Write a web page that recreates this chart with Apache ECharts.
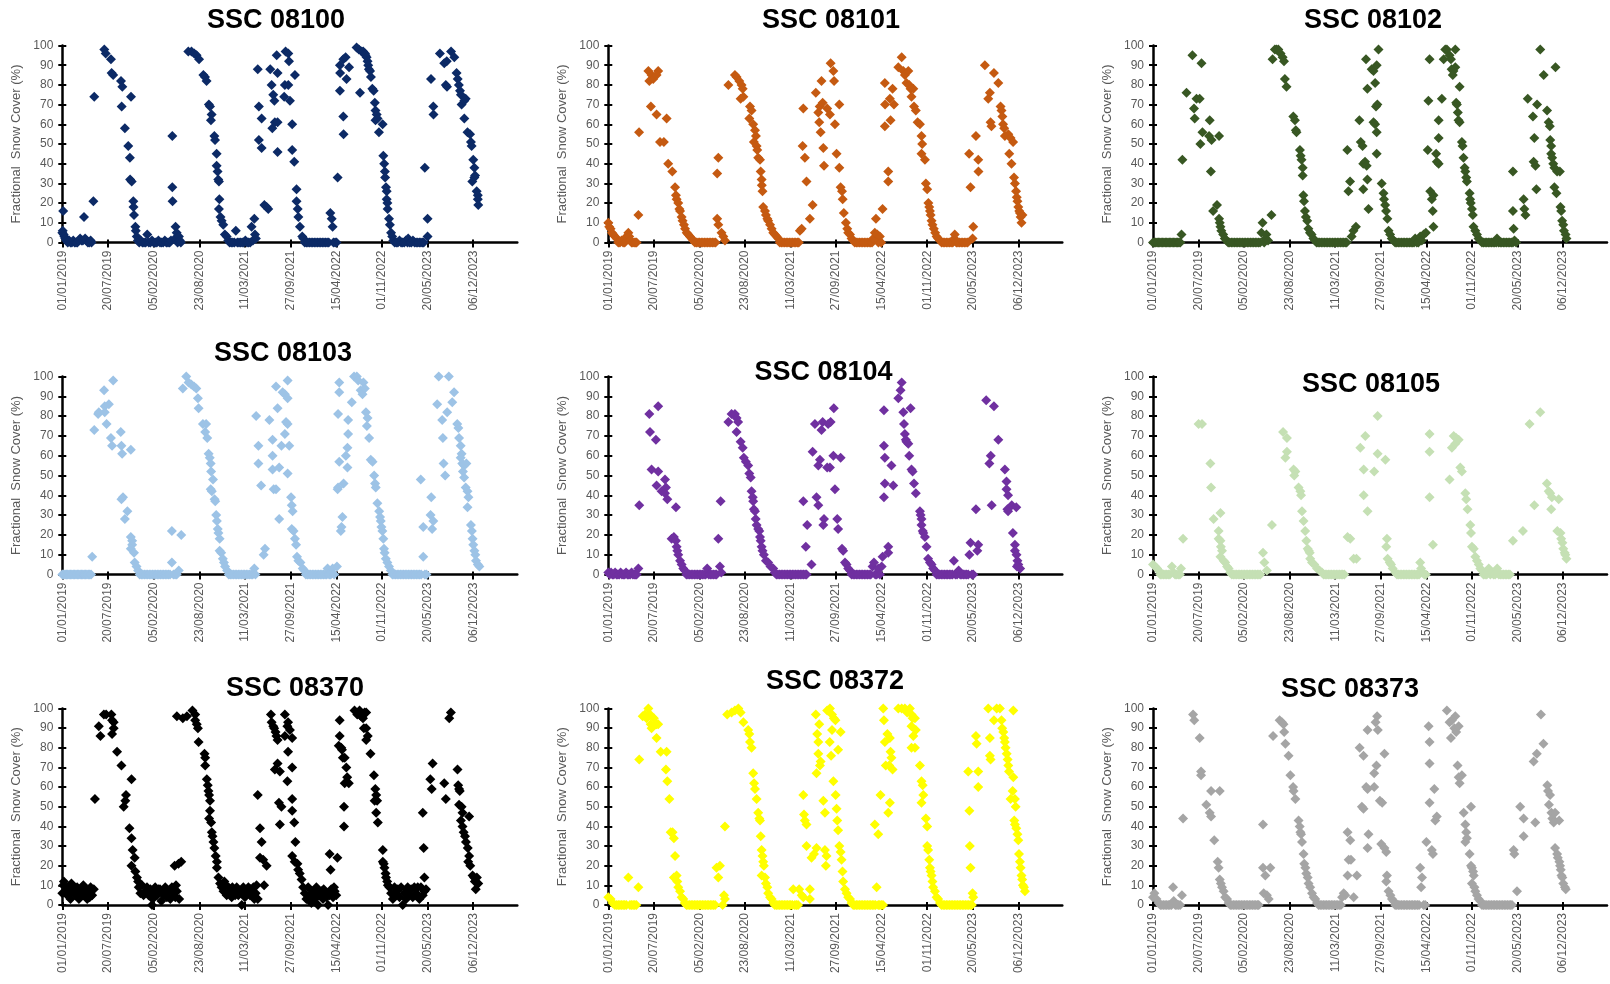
<!DOCTYPE html>
<html><head><meta charset="utf-8">
<script src="https://cdn.jsdelivr.net/npm/echarts@6/dist/echarts.min.js"></script>
<style>html,body{margin:0;padding:0;background:#fff}#c{width:1610px;height:984px}</style>
</head><body><div id="c"></div>
<script>
// x values are days since 01/01/2019
const xTickDays = [0,200,400,600,800,1000,1200,1400,1600,1800];
const xTickLabels = ['01/01/2019','20/07/2019','05/02/2020','23/08/2020','11/03/2021','27/09/2021','15/04/2022','01/11/2022','20/05/2023','06/12/2023'];
const stationNames = ['SSC 08100','SSC 08101','SSC 08102','SSC 08103','SSC 08104','SSC 08105','SSC 08370','SSC 08372','SSC 08373'];
const stationColors = ['#0c2a66','#c55a11','#385723','#9dc3e6','#7030a0','#c5e0b4','#000000','#ffff00','#a5a5a5'];
const yAxisName = 'Fractional  Snow Cover (%)';

const ssc08100 = [[0,5],[2,6],[4,16],[6,4],[9,3],[13,2],[18,1],[24,0],[30,1],[36,0],[42,0],[48,1],[54,0],[60,0],[66,0],[72,1],[78,2],[84,1],[90,1],[95,13],[100,2],[106,1],[112,0],[118,0],[124,1],[128,0],[136,21],[140,74],
[184,98],[190,96],[213,93],[216,86],[223,85],[257,82],[263,79],[260,69],[274,58],[289,49],[296,43],[297,32],[301,74],[304,31],[311,21],[312,18],[314,14],[320,8],[322,6],[326,3],[331,1],
[337,0],[344,1],[351,0],[358,0],[365,0],[372,4],[379,0],[386,0],[393,1],[400,0],[407,0],[414,0],[421,1],[428,0],[435,0],[442,0],[449,1],[456,0],[463,0],[470,0],[476,1],
[482,54],[482,28],[483,21],[494,2],[496,8],[501,5],[505,0],[511,3],[515,1],[519,0],
[552,97],[566,97],[578,96],[588,95],[599,93],[618,85],[625,84],[632,82],[642,70],[647,69],[654,65],[651,62],[666,54],[669,52],[676,45],[676,39],[680,36],[683,32],[686,31],[688,22],[686,17],[693,13],[698,11],[705,9],[712,4],[720,3],[727,1],
[733,0],[740,0],[747,0],[754,0],[760,6],[767,0],[774,0],[781,0],[788,0],[795,0],[802,1],[809,0],[816,0],[823,0],[829,8],[835,1],[841,12],[844,4],[848,2],
[856,88],[861,69],[873,63],[861,52],[873,48],[885,19],[895,18],[902,17],[911,88],[917,80],[924,75],[929,72],[920,58],[931,61],[943,61],[939,95],[943,86],[943,46],[972,74],[975,80],[990,80],[978,97],[990,96],[993,92],[997,72],[1007,60],[1007,47],[1016,41],[1019,85],[1026,27],[1026,21],[1031,17],[1034,13],[1041,8],[1051,3],[1056,2],
[1062,0],[1069,0],[1076,0],[1083,0],[1090,0],[1097,0],[1104,0],[1111,0],[1118,0],[1125,0],[1132,0],[1139,0],[1146,0],[1153,0],[1160,0],[1167,0],[1174,15],[1180,12],[1184,8],[1188,0],[1195,0],[1201,0],
[1206,33],[1216,90],[1217,86],[1216,77],[1231,93],[1241,94],[1256,89],[1245,83],[1231,64],[1232,55],[1289,99],[1299,98],[1304,76],[1311,97],[1318,97],[1326,96],[1328,95],[1333,94],[1337,92],[1340,90],[1343,88],[1348,87],[1352,84],[1358,78],[1364,77],[1369,71],[1372,67],[1377,65],[1372,62],[1381,63],[1387,56],[1403,60],[1406,44],[1410,40],[1413,36],[1414,33],[1418,28],[1421,26],[1421,22],[1424,20],[1425,17],[1431,12],[1435,9],[1440,5],[1445,3],[1450,1],
[1456,0],[1463,0],[1470,0],[1477,1],[1484,0],[1491,0],[1498,0],[1505,1],[1512,0],[1515,2],[1522,0],[1529,0],[1536,1],[1543,0],[1550,0],[1557,0],[1564,0],[1571,0],[1578,0],[1583,0],
[1588,38],[1600,12],[1600,3],[1615,83],[1625,69],[1626,65],[1654,96],[1673,91],[1684,92],[1680,80],[1685,79],[1703,97],[1717,94],[1727,86],[1732,83],[1737,80],[1742,77],[1746,75],[1749,70],[1761,72],[1767,73],[1761,63],[1775,56],[1786,55],[1790,51],[1793,49],[1800,42],[1805,38],[1808,34],[1805,33],[1796,31],[1815,26],[1820,24],[1820,22],[1822,19]];

const ssc08101 = [[0,10],[4,8],[10,7],[16,5],[22,4],[29,3],[37,2],[44,0],[51,0],[58,1],[65,0],[72,0],[80,3],[88,5],[92,3],[96,1],[102,0],[108,0],[114,0],[120,0],[124,0],[132,14],[135,56],
[176,87],[180,82],[190,85],[197,83],[219,87],[212,85],[187,69],[212,65],[227,51],[244,51],[256,63],[263,40],[281,36],[293,28],[297,24],[300,22],[307,20],[312,17],[315,16],[322,13],[326,11],[332,9],[337,7],[344,5],[351,4],[358,3],[366,2],[373,1],
[380,0],[387,0],[394,0],[401,0],[408,0],[415,0],[422,0],[429,0],[436,0],[443,0],[450,0],[457,0],[464,0],[471,0],
[478,35],[483,43],[478,12],[483,9],[497,5],[505,3],[512,1],
[527,80],[556,85],[563,84],[575,82],[585,80],[590,78],[581,73],[593,74],[622,69],[629,67],[619,63],[636,60],[644,57],[648,54],[639,51],[651,49],[654,47],[658,43],[666,42],[669,36],[673,32],[674,29],[677,26],[680,18],[688,16],[692,14],[698,12],[702,11],[710,9],[717,7],[724,5],[731,4],[739,3],[746,2],[753,0],
[760,0],[767,0],[774,0],[781,0],[788,0],[795,0],[802,0],[809,0],[816,0],[823,0],[830,0],[836,0],[841,6],[849,7],
[856,68],[853,49],[863,43],[870,31],[897,19],[885,12],[911,76],[922,66],[926,61],[932,56],[936,82],[928,69],[941,71],[944,48],[947,39],[961,68],[973,65],[976,91],[988,87],[991,82],[995,60],[1002,45],[1014,70],[1014,38],[1020,28],[1026,26],[1029,22],[1034,15],[1043,10],[1049,7],[1053,5],[1061,4],[1068,2],[1075,1],
[1082,0],[1089,0],[1096,0],[1103,0],[1110,0],[1117,0],[1124,0],[1131,0],[1138,0],[1145,0],[1152,0],[1158,0],[1163,2],[1170,5],[1175,12],[1181,4],[1186,0],[1192,3],[1198,0],[1204,17],
[1214,59],[1214,81],[1215,70],[1229,36],[1229,31],[1236,73],[1239,62],[1248,78],[1254,70],[1273,89],[1288,94],[1295,87],[1302,85],[1309,81],[1317,87],[1321,80],[1327,78],[1331,74],[1339,78],[1342,69],[1350,67],[1358,61],[1368,60],[1375,54],[1378,50],[1375,45],[1390,42],[1394,30],[1400,27],[1405,20],[1409,18],[1412,16],[1415,14],[1419,11],[1423,9],[1429,7],[1435,5],[1441,3],[1448,2],[1456,1],
[1463,0],[1470,0],[1477,0],[1484,0],[1491,0],[1498,0],[1505,0],[1512,0],[1519,2],[1521,4],[1528,0],[1535,0],[1542,0],[1549,0],[1556,0],[1563,0],[1570,0],[1577,0],
[1584,45],[1590,28],[1602,8],[1599,2],
[1614,54],[1624,42],[1625,36],[1653,90],[1668,73],[1675,76],[1678,61],[1682,59],[1693,86],[1712,81],[1722,69],[1726,67],[1730,64],[1733,60],[1738,58],[1741,54],[1756,55],[1766,53],[1777,51],[1760,45],[1770,40],[1781,33],[1785,30],[1790,26],[1793,23],[1796,21],[1800,18],[1804,16],[1807,15],[1810,13],[1818,14],[1814,10]];

const ssc08102 = [[0,0],[6,0],[12,0],[18,0],[24,0],[30,0],[36,0],[42,0],[48,0],[54,0],[60,0],[66,0],[72,0],[78,0],[84,0],[90,0],[96,0],[102,0],[108,0],[114,0],[120,0],[125,4],[129,42],
[147,76],[173,95],[191,73],[205,73],[180,68],[183,63],[213,91],[217,56],[208,50],[249,62],[246,54],[257,52],[290,54],[254,36],[264,16],[281,19],[290,12],[293,10],[296,8],[300,6],[308,4],[315,2],[323,1],
[330,0],[337,0],[344,0],[351,0],[358,0],[365,0],[372,0],[379,0],[386,0],[393,0],[400,0],[407,0],[414,0],[421,0],[428,0],[435,0],[442,0],[449,0],[456,0],[463,0],[470,0],[476,5],[481,10],[488,0],[494,2],[498,4],[505,1],[520,14],
[525,93],[535,98],[542,98],[550,98],[560,96],[569,94],[575,92],[579,83],[586,79],[616,64],[623,62],[627,57],[630,56],[645,47],[648,44],[652,42],[657,38],[657,34],[660,24],[663,21],[667,16],[671,13],[677,11],[682,7],[689,5],[696,4],[704,2],[711,1],
[718,0],[725,0],[732,0],[739,0],[746,0],[753,0],[760,0],[767,0],[774,0],[781,0],[788,0],[795,0],[802,0],[809,0],[816,0],[823,0],[830,0],[837,0],[844,0],[850,0],
[853,47],[865,31],[858,26],[872,3],[880,6],[891,8],[906,62],[912,51],[920,49],[923,40],[931,41],[938,39],[923,27],[941,32],[946,17],[935,93],[941,78],[960,88],[968,87],[975,81],[979,69],[985,70],[968,61],[975,60],[982,45],[982,56],[990,98],[982,90],[1004,30],[1012,25],[1014,22],[1019,19],[1023,16],[1029,12],[1034,6],[1041,4],[1048,2],[1056,1],
[1063,0],[1070,0],[1077,0],[1084,0],[1091,0],[1098,0],[1105,0],[1112,0],[1119,0],[1126,0],[1133,0],[1140,0],[1146,0],[1151,2],[1158,0],[1165,0],[1173,3],[1180,1],[1188,4],[1198,5],
[1214,93],[1209,72],[1206,47],[1217,26],[1224,22],[1231,24],[1228,16],[1231,8],[1243,45],[1246,41],[1254,40],[1254,62],[1254,53],[1268,73],[1276,93],[1283,98],[1290,98],[1302,95],[1308,93],[1327,98],[1311,88],[1319,87],[1316,85],[1327,89],[1346,79],[1331,71],[1334,70],[1338,66],[1341,62],[1346,61],[1356,51],[1359,49],[1363,43],[1368,38],[1371,36],[1375,33],[1378,31],[1390,25],[1392,22],[1395,20],[1400,17],[1404,14],[1407,8],[1415,6],[1422,4],[1429,2],[1437,1],
[1444,0],[1451,0],[1458,0],[1465,0],[1472,0],[1479,0],[1486,0],[1493,0],[1500,0],[1507,0],[1510,2],[1517,0],[1524,0],[1531,0],[1538,0],[1545,0],[1552,0],[1559,0],[1566,0],[1573,0],[1580,0],[1587,1],[1594,0],
[1580,36],[1580,16],[1583,7],[1627,22],[1630,17],[1635,14],
[1645,73],[1668,64],[1674,53],[1671,41],[1679,39],[1683,27],[1686,70],[1700,98],[1715,85],[1730,67],[1737,61],[1742,59],[1744,52],[1748,49],[1748,45],[1752,43],[1757,40],[1762,38],[1774,36],[1767,89],[1762,28],[1771,25],[1786,36],[1789,18],[1792,16],[1796,11],[1801,9],[1804,6],[1811,4],[1815,2]];

const ssc08103 = [[0,0],[6,0],[12,0],[18,0],[24,0],[30,0],[36,0],[42,0],[48,0],[54,0],[60,0],[66,0],[72,0],[78,0],[84,0],[90,0],[96,0],[102,0],[108,0],[114,0],[120,0],[126,0],[131,9],
[140,73],[157,81],[160,82],[183,93],[186,85],[186,82],[194,76],[204,86],[223,98],[213,69],[218,65],[256,72],[259,65],[262,61],[300,63],[266,39],[259,38],[285,32],[274,28],[300,19],[306,17],[306,15],[300,13],[314,11],[317,6],[325,4],[332,2],
[339,0],[346,0],[353,0],[360,0],[367,0],[374,0],[381,0],[388,0],[395,0],[402,0],[409,0],[416,0],[423,0],[430,0],[437,0],[444,0],[451,0],[458,0],[465,0],[472,0],[480,6],[480,22],[487,0],[494,0],[501,0],[510,2],[521,20],
[528,94],[543,100],[553,97],[565,96],[577,95],[587,94],[594,89],[597,84],[616,76],[630,76],[626,72],[635,69],[641,61],[646,59],[650,56],[652,52],[660,48],[650,43],[655,42],[667,38],[670,37],[674,30],[677,27],[681,23],[684,21],[689,18],[689,12],[696,11],[703,8],[708,6],[713,4],[722,2],
[729,0],[736,0],[743,0],[750,0],[757,0],[764,0],[771,0],[778,0],[785,0],[792,0],[799,0],[806,0],[813,0],[820,0],[827,0],[834,0],[841,3],[846,0],
[849,80],[859,65],[859,56],[871,45],[882,10],[888,13],[907,78],[921,68],[921,60],[921,53],[926,43],[936,43],[936,95],[943,84],[950,54],[950,28],[965,92],[975,91],[975,71],[980,77],[987,76],[987,89],[987,98],[987,51],[960,65],[994,65],[1002,39],[1005,35],[1009,32],[1005,23],[1013,22],[1019,18],[1024,15],[1028,9],[1034,7],[1043,6],[1053,3],[1060,2],
[1067,0],[1074,0],[1081,0],[1088,0],[1095,0],[1102,0],[1109,0],[1116,0],[1123,0],[1130,0],[1137,0],[1144,0],[1151,0],[1158,0],[1162,3],[1169,0],[1176,0],[1184,3],[1191,0],[1203,4],
[1206,43],[1208,44],[1213,57],[1208,81],[1213,97],[1213,92],[1220,22],[1223,24],[1227,29],[1232,46],[1242,60],[1249,64],[1252,71],[1249,54],[1252,78],[1268,87],[1278,100],[1290,100],[1296,98],[1307,93],[1315,91],[1319,97],[1325,94],[1330,82],[1337,79],[1334,75],[1344,69],[1351,58],[1359,57],[1366,50],[1370,46],[1373,44],[1380,36],[1388,32],[1392,29],[1395,27],[1398,24],[1402,22],[1406,18],[1409,13],[1412,11],[1417,8],[1424,6],[1431,4],[1439,2],
[1446,0],[1453,0],[1460,0],[1467,0],[1474,0],[1481,0],[1488,0],[1495,0],[1502,0],[1509,0],[1516,0],[1523,0],[1530,0],[1537,0],[1544,0],[1551,0],[1558,0],[1565,0],[1572,0],[1581,9],[1570,48],[1581,24],[1588,0],[1595,0],
[1616,39],[1613,30],[1625,27],[1620,23],
[1642,86],[1649,100],[1664,78],[1686,82],[1693,100],[1667,69],[1670,56],[1677,50],[1716,92],[1708,87],[1730,76],[1735,74],[1738,69],[1745,65],[1749,61],[1745,59],[1752,56],[1760,55],[1770,56],[1755,52],[1760,49],[1767,44],[1775,42],[1779,39],[1775,34],[1790,25],[1794,22],[1797,18],[1800,15],[1805,12],[1809,10],[1812,7],[1820,5],[1827,4]];

const ssc08104 = [[0,1],[6,0],[12,1],[18,0],[24,0],[30,1],[36,0],[42,0],[48,0],[54,1],[60,0],[66,0],[72,0],[78,1],[84,0],[90,0],[96,0],[102,1],[108,0],[114,0],[120,0],[124,0],[132,3],[136,35],
[180,81],[183,72],[209,68],[219,85],[190,53],[219,52],[212,45],[249,48],[253,44],[234,42],[249,41],[259,38],[297,34],[278,18],[288,19],[297,17],[300,14],[303,12],[307,10],[315,7],[322,5],[329,3],[336,2],
[343,0],[350,0],[357,0],[364,0],[371,0],[378,0],[385,0],[392,0],[399,0],[406,0],[413,0],[420,0],[427,0],[434,3],[441,0],[448,0],[455,0],[462,0],[469,0],[475,0],
[483,18],[493,37],[490,4],[496,1],
[527,77],[541,81],[556,81],[563,79],[570,77],[563,72],[581,67],[590,64],[595,59],[604,57],[614,55],[619,51],[625,49],[629,42],[634,39],[636,37],[639,33],[644,32],[647,28],[651,25],[658,23],[663,22],[666,19],[669,17],[673,14],[677,12],[683,10],[692,7],[702,6],[712,4],[724,3],[731,1],
[738,0],[745,0],[752,0],[759,0],[766,0],[773,0],[780,0],[787,0],[794,0],[801,0],[808,0],[815,0],[822,0],[829,0],[836,0],[843,0],[850,0],[857,0],[864,0],[870,0],
[856,37],[873,25],[867,14],[892,5],[897,62],[907,76],[914,39],[922,35],[922,55],[929,58],[936,73],[941,77],[947,28],[944,25],[961,54],[973,54],[965,76],[976,77],[990,84],[988,60],[995,43],[1005,28],[1009,23],[1020,59],[1026,13],[1031,12],[1039,6],[1046,5],[1053,3],[1061,2],
[1068,0],[1075,0],[1082,0],[1089,0],[1096,0],[1103,0],[1110,0],[1117,0],[1124,0],[1131,0],[1138,0],[1145,0],[1152,0],[1160,4],[1166,6],[1172,0],[1178,0],[1185,3],[1192,0],[1200,4],[1204,9],
[1210,83],[1210,65],[1214,59],[1210,39],[1214,46],[1229,14],[1229,11],[1243,55],[1251,45],[1273,89],[1283,93],[1288,97],[1295,82],[1298,76],[1302,71],[1306,68],[1309,67],[1317,66],[1321,60],[1327,84],[1331,53],[1336,52],[1342,46],[1350,41],[1368,32],[1371,30],[1375,28],[1375,25],[1380,22],[1383,21],[1390,19],[1397,14],[1404,8],[1412,6],[1419,5],[1426,3],[1434,2],
[1441,0],[1448,0],[1455,0],[1462,0],[1469,0],[1476,0],[1483,0],[1490,0],[1497,0],[1504,0],[1511,0],[1517,7],[1524,0],[1531,0],[1538,2],[1545,0],[1552,0],[1559,0],[1566,0],[1573,0],[1580,0],[1585,10],[1590,16],[1596,0],[1602,0],
[1614,33],[1624,15],[1620,12],[1659,88],[1673,56],[1679,60],[1693,85],[1683,35],[1712,68],[1741,53],[1748,47],[1748,43],[1755,40],[1752,33],[1755,32],[1771,35],[1791,34],[1776,21],[1785,15],[1785,12],[1792,10],[1796,7],[1800,5],[1808,3],[1794,4]];

const ssc08105 = [[0,5],[10,4],[18,3],[25,2],[32,0],[39,0],[46,0],[53,0],[60,0],[67,0],[74,0],[83,4],[90,1],[97,0],[104,0],[111,0],[118,0],[123,3],[132,18],
[200,76],[215,76],[252,56],[255,44],[266,28],[296,31],[288,22],[288,18],[296,17],[298,14],[303,12],[296,9],[310,7],[317,6],[325,4],[332,3],[339,1],
[346,0],[353,0],[360,0],[367,0],[374,0],[381,0],[388,0],[395,0],[402,0],[409,0],[416,0],[423,0],[430,0],[437,0],[444,0],[451,0],[458,0],[465,0],[471,0],
[483,11],[489,6],[500,2],[522,25],
[571,72],[588,69],[588,62],[581,59],[617,53],[625,52],[620,50],[639,44],[647,42],[650,40],[654,32],[661,27],[668,22],[673,17],[679,13],[684,12],[688,11],[690,8],[698,6],[708,5],[720,3],[731,2],[742,1],
[749,0],[756,0],[763,0],[770,0],[777,0],[784,0],[791,0],[798,0],[805,0],[812,0],[819,0],[826,0],[833,0],[840,0],
[854,19],[866,18],[881,8],[893,8],[910,64],[925,53],[932,70],[942,32],[925,40],[971,52],[986,61],[986,80],[1020,58],[1027,18],[1024,14],[1030,8],[1039,6],[1045,5],[1052,3],[1064,1],
[1071,0],[1078,0],[1085,0],[1092,0],[1099,0],[1106,0],[1113,0],[1120,0],[1127,0],[1134,0],[1141,0],[1148,0],[1155,0],[1162,0],[1168,0],[1173,6],[1177,3],[1184,1],[1191,0],[1198,0],
[1214,71],[1214,62],[1214,39],[1229,15],[1302,48],[1312,64],[1320,70],[1327,66],[1331,69],[1342,68],[1349,54],[1356,52],[1371,41],[1375,38],[1381,33],[1393,25],[1396,21],[1400,14],[1408,13],[1415,9],[1422,7],[1430,5],[1437,3],[1444,2],
[1451,0],[1458,0],[1465,0],[1474,3],[1481,0],[1488,1],[1495,0],[1502,0],[1511,3],[1518,0],[1525,0],[1532,0],[1539,0],[1546,0],[1553,0],[1560,0],[1567,0],
[1580,17],[1624,22],[1653,76],[1674,35],[1700,82],[1729,46],[1737,42],[1744,41],[1751,39],[1748,33],[1781,38],[1775,22],[1789,21],[1792,18],[1797,16],[1801,13],[1807,11],[1810,10],[1815,8]];

const ssc08370 = [[0,6],[7,12],[15,9],[22,5],[29,9],[36,3],[44,7],[51,9],[58,5],[65,9],[73,3],[80,7],[87,9],[95,5],[102,8],[109,3],[116,6],[124,9],[131,5],[138,8],[4,10],[18,7],[40,11],[62,6],[92,10],[120,4],
[143,54],[160,91],[167,86],[182,97],[192,97],[215,97],[218,94],[225,93],[225,90],[218,87],[240,78],[259,71],[269,50],[276,53],[279,56],[303,64],[294,39],[303,34],[308,28],[317,24],[303,20],[320,17],[327,14],[332,12],[335,9],[342,6],[349,10],[356,5],
[371,9],[378,5],[386,8],[393,0],[396,3],[407,9],[415,5],[422,8],[434,2],[439,6],[451,9],[458,4],[466,7],[473,3],[480,9],[487,6],[495,4],[498,10],[502,7],[492,20],[509,21],[521,22],[512,3],[364,7],[400,6],[428,8],[445,5],
[502,96],[528,95],[546,96],[570,99],[582,97],[582,94],[589,92],[594,90],[597,83],[623,77],[626,75],[626,71],[633,64],[637,61],[640,58],[643,56],[647,53],[647,48],[643,44],[652,42],[655,37],[658,35],[662,32],[666,29],[672,25],[677,22],[677,19],[684,14],[691,11],[698,9],
[706,7],[713,10],[720,5],[728,9],[735,6],[742,4],[749,8],[757,5],[764,9],[771,5],[778,7],[786,0],[793,9],[800,4],[808,7],[815,9],[822,5],[829,7],[837,9],[841,3],[847,6],[851,10],[856,3],[710,12],[745,9],[790,6],[825,8],
[856,56],[866,39],[873,32],[866,24],[880,23],[895,20],[884,10],[914,97],[917,93],[924,91],[928,90],[934,88],[938,86],[943,84],[931,69],[943,72],[953,68],[949,52],[960,50],[953,41],[975,97],[989,93],[986,91],[997,89],[975,86],[989,78],[1007,85],[986,63],[1007,70],[1007,54],[1007,48],[1016,42],[1021,32],[1007,25],[1018,22],[1030,21],[1033,18],[1040,16],[1048,13],[1055,9],
[1062,6],[1069,3],[1077,9],[1084,5],[1091,1],[1098,7],[1106,3],[1113,9],[1120,0],[1128,5],[1135,7],[1142,3],[1149,7],[1157,4],[1164,0],[1171,5],[1178,8],[1186,4],[1193,7],[1200,5],[1175,18],[1171,26],[1205,24],[1110,6],[1145,8],[1190,9],
[1215,94],[1215,86],[1211,81],[1222,80],[1225,79],[1229,75],[1237,75],[1244,70],[1248,65],[1237,62],[1255,62],[1234,50],[1234,40],[1280,99],[1292,97],[1302,99],[1309,96],[1317,95],[1324,98],[1331,98],[1321,90],[1331,90],[1338,86],[1331,84],[1350,77],[1365,66],[1371,59],[1375,56],[1368,53],[1379,53],[1375,47],[1382,42],[1404,28],[1404,22],[1408,21],[1411,19],[1416,16],[1418,14],[1423,12],[1426,10],[1433,9],
[1440,6],[1448,3],[1455,9],[1462,5],[1470,8],[1477,4],[1484,9],[1491,0],[1499,6],[1506,3],[1513,9],[1520,5],[1528,8],[1535,4],[1542,9],[1550,6],[1557,9],[1564,3],[1571,9],[1579,5],[1586,7],[1593,8],[1466,7],[1510,8],[1546,5],
[1579,47],[1583,29],[1586,14],
[1622,72],[1612,64],[1618,59],[1673,62],[1680,54],[1695,95],[1702,98],[1731,69],[1734,61],[1738,59],[1741,58],[1738,51],[1749,50],[1753,47],[1746,43],[1782,45],[1753,40],[1758,37],[1764,35],[1768,32],[1776,29],[1782,25],[1778,22],[1787,20],[1797,15],[1804,14],[1816,14],[1822,11],[1807,12],[1811,8]];

const ssc08372 = [[0,4],[10,3],[19,1],[29,0],[37,0],[44,0],[51,0],[58,0],[65,0],[72,0],[79,0],[88,14],[95,0],[102,0],[109,0],[116,0],[123,0],[132,9],
[136,74],[151,96],[161,97],[168,95],[176,100],[183,97],[186,92],[190,90],[200,95],[209,92],[212,92],[219,92],[212,85],[230,78],[256,78],[253,69],[259,63],[268,54],[274,37],[282,37],[288,34],[293,25],[288,14],[300,15],[303,12],[307,9],[315,7],[322,4],[329,3],[336,1],
[343,0],[350,0],[357,0],[364,0],[371,0],[378,0],[385,0],[392,0],[399,0],[406,0],[413,0],[420,0],[427,0],[434,0],[441,0],[448,0],[455,0],[462,0],[469,0],
[475,19],[483,14],[490,20],[508,5],[512,3],[502,0],[512,40],
[522,97],[541,98],[556,99],[571,100],[581,98],[593,93],[614,89],[619,87],[622,83],[629,80],[636,67],[640,62],[644,59],[651,54],[658,47],[663,44],[666,43],[669,35],[673,28],[677,25],[680,22],[683,20],[673,15],[688,14],[692,11],[698,9],[702,6],[710,4],[717,3],[724,1],
[731,0],[738,0],[745,0],[752,0],[759,0],[766,0],[773,0],[780,0],[787,0],[794,0],[801,0],[808,0],[812,8],[819,0],[826,0],[833,0],[838,8],[849,5],[856,4],[885,8],[885,3],
[856,56],[859,46],[863,43],[870,41],[870,30],[892,24],[903,26],[914,29],[911,97],[926,92],[917,87],[922,83],[922,77],[932,73],[929,71],[914,67],[944,53],[951,47],[951,28],[955,20],[958,25],[961,99],[973,100],[982,97],[990,95],[997,94],[982,89],[972,83],[978,76],[988,63],[998,56],[1002,49],[1005,43],[1009,79],[1020,88],[1009,38],[1014,30],[1020,27],[1024,23],[1028,17],[1031,12],[1039,8],[1046,6],[1053,4],[1061,3],[1068,1],
[1075,0],[1082,0],[1089,0],[1096,0],[1103,0],[1110,0],[1117,0],[1124,0],[1131,0],[1138,0],[1145,0],[1152,0],[1159,0],[1166,0],[1173,0],[1178,9],[1185,0],[1192,0],[1199,0],[1206,0],
[1170,41],[1185,36],[1195,56],[1207,100],[1210,94],[1214,83],[1225,87],[1236,85],[1218,71],[1233,71],[1236,52],[1229,47],[1239,78],[1243,75],[1248,69],[1273,100],[1288,100],[1302,100],[1312,98],[1324,100],[1331,97],[1336,95],[1346,95],[1331,91],[1339,86],[1350,89],[1331,80],[1346,80],[1368,71],[1375,63],[1380,61],[1383,56],[1375,52],[1394,44],[1400,40],[1400,30],[1404,28],[1409,23],[1412,19],[1415,17],[1419,15],[1423,12],[1426,9],[1434,7],[1441,4],[1448,3],[1456,1],
[1463,0],[1470,0],[1477,0],[1484,0],[1491,0],[1498,0],[1505,0],[1512,0],[1519,0],[1526,0],[1533,0],[1540,0],[1547,0],[1554,0],[1561,0],[1568,0],[1575,0],[1582,0],[1589,0],[1596,0],[1599,6],[1602,4],
[1580,68],[1585,48],[1587,30],[1590,19],
[1614,86],[1617,82],[1624,68],[1624,60],[1668,100],[1675,85],[1675,76],[1678,74],[1693,94],[1705,100],[1719,100],[1726,94],[1729,90],[1734,88],[1738,85],[1741,83],[1744,80],[1749,77],[1753,74],[1756,71],[1759,68],[1778,99],[1778,65],[1766,54],[1775,58],[1785,54],[1788,50],[1782,43],[1785,41],[1791,39],[1796,36],[1800,33],[1803,26],[1807,22],[1810,19],[1814,15],[1817,13],[1820,10],[1825,9],[1829,7]];

const ssc08373 = [[0,4],[6,6],[15,3],[25,1],[32,0],[39,0],[46,0],[53,0],[60,0],[67,0],[74,0],[81,0],[88,9],[91,2],[98,0],[105,0],[112,0],[119,0],[127,5],[132,44],
[176,97],[181,94],[205,85],[211,68],[211,66],[234,51],[249,47],[255,45],[255,58],[293,58],[269,33],[284,22],[288,19],[293,13],[298,11],[303,9],[310,7],[317,4],[325,3],[332,1],
[339,0],[346,0],[353,0],[360,0],[367,0],[374,0],[381,0],[388,0],[395,0],[402,0],[409,0],[416,0],[423,0],[430,0],[437,0],[444,0],[451,0],[458,0],[464,0],
[483,41],[483,19],[493,15],[515,19],[486,6],[500,5],[508,3],
[527,86],[556,94],[566,93],[573,92],[576,88],[581,82],[595,76],[603,66],[615,60],[617,58],[625,54],[639,43],[644,40],[647,37],[650,36],[654,32],[661,26],[664,21],[669,19],[673,16],[679,14],[683,11],[690,9],[698,6],[705,4],[712,3],[720,1],
[727,0],[734,0],[741,0],[748,0],[755,0],[762,0],[769,0],[776,0],[783,0],[790,0],[797,0],[804,0],[811,0],[818,0],[825,0],[830,4],[837,6],[844,5],
[854,37],[866,33],[859,23],[869,23],[854,15],[895,15],[881,4],[907,80],[924,76],[917,50],[924,49],[936,60],[942,59],[942,89],[946,36],[942,29],[971,67],[971,60],[977,93],[984,96],[987,89],[981,71],[996,53],[1006,52],[1002,31],[1016,29],[1024,27],[1016,77],[1027,15],[1024,12],[1034,7],[1042,5],[1049,3],[1056,2],
[1063,0],[1070,0],[1077,0],[1084,0],[1091,0],[1098,0],[1105,0],[1112,0],[1119,0],[1126,0],[1133,0],[1140,0],[1147,0],[1154,0],[1161,0],[1168,0],[1173,19],[1181,14],[1177,9],[1188,0],[1195,0],
[1200,32],[1210,91],[1214,83],[1214,72],[1214,52],[1224,28],[1229,26],[1235,59],[1239,43],[1246,45],[1290,99],[1302,93],[1308,85],[1312,94],[1323,90],[1327,96],[1331,88],[1342,91],[1337,71],[1342,65],[1346,62],[1356,66],[1364,47],[1371,41],[1375,37],[1371,32],[1378,34],[1390,26],[1396,50],[1396,20],[1400,19],[1405,17],[1408,15],[1400,11],[1411,9],[1415,7],[1422,5],[1429,3],[1437,2],
[1444,0],[1451,0],[1458,0],[1465,0],[1472,0],[1479,0],[1486,0],[1493,0],[1500,0],[1507,0],[1514,0],[1521,0],[1528,0],[1535,0],[1542,0],[1549,0],[1556,0],[1563,0],[1570,0],[1576,0],
[1583,28],[1586,26],[1598,7],[1612,50],[1627,44],[1627,35],[1671,73],[1678,42],[1685,77],[1703,97],[1714,82],[1731,61],[1734,58],[1743,56],[1738,51],[1749,47],[1753,44],[1759,42],[1765,47],[1783,43],[1765,29],[1774,26],[1777,24],[1784,22],[1787,20],[1790,18],[1793,15],[1797,14],[1801,11],[1808,9],[1812,8]];

const stationData = [ssc08100, ssc08101, ssc08102, ssc08103, ssc08104, ssc08105, ssc08370, ssc08372, ssc08373];

// ---- layout (pixels) ----
const colLeft = [62.3, 608.3, 1153];
const colWidth = [455, 454, 454];
const rowTop = [45.5, 376.5, 708.5];
const rowHeight = [197, 198, 196.5];
const titleCenters = [[276,21],[831,21],[1373,21],[283,354],[823.5,373],[1371,384.5],[295,689],[835,682],[1350,690]];
const X_MAX = 1993;
const FONT = '"Liberation Sans", Arial, sans-serif';

const chart = echarts.init(document.getElementById('c'), null, {renderer: 'canvas'});
const grids = [], xAxes = [], yAxes = [], series = [], graphics = [];
for (let i = 0; i < 9; i++) {
  const r = Math.floor(i / 3), c = i % 3;
  grids.push({left: colLeft[c], top: rowTop[r], width: colWidth[c], height: rowHeight[r], containLabel: false, outerBoundsMode: 'none'});
}
for (let i = 0; i < 9; i++) {
  xAxes.push({
    type: 'value', gridIndex: i, min: 0, max: X_MAX, interval: 200, position: 'bottom',
    axisLine: {onZero: false, lineStyle: {color: '#000', width: 2.5}},
    axisTick: {show: true, length: 5, customValues: xTickDays, lineStyle: {color: '#000', width: 2}},
    axisLabel: {customValues: xTickDays, rotate: 90, margin: 8, color: '#595959', fontSize: 12, fontFamily: FONT,
      formatter: v => { const k = xTickDays.indexOf(Math.round(v)); return k >= 0 ? xTickLabels[k] : ''; }},
    splitLine: {show: false}
  });
  yAxes.push({
    type: 'value', gridIndex: i, min: 0, max: 100, interval: 10, position: 'left',
    name: yAxisName, nameLocation: 'middle', nameRotate: 90, nameGap: 39,
    nameTextStyle: {color: '#595959', fontSize: 13, fontFamily: FONT},
    axisLine: {onZero: false, lineStyle: {color: '#000', width: 2.5}},
    axisTick: {show: true, length: 4, lineStyle: {color: '#000', width: 2}},
    axisLabel: {margin: 9, color: '#595959', fontSize: 12, fontFamily: FONT},
    splitLine: {show: false}
  });
}
for (let i = 0; i < 9; i++) {
  xAxes.push({
    type: 'value', gridIndex: i, min: 0, max: X_MAX, interval: 200, position: 'bottom',
    axisLine: {show: false}, axisLabel: {show: false}, splitLine: {show: false},
    axisTick: {show: true, inside: true, length: 3, customValues: xTickDays, lineStyle: {color: '#000', width: 2}}
  });
  yAxes.push({
    type: 'value', gridIndex: i, min: 0, max: 100, interval: 10, position: 'left',
    axisLine: {show: false}, axisLabel: {show: false}, splitLine: {show: false},
    axisTick: {show: true, inside: true, length: 4, lineStyle: {color: '#000', width: 2}}
  });
}
for (let i = 0; i < 9; i++) {
  series.push({
    type: 'scatter', name: stationNames[i], xAxisIndex: i, yAxisIndex: i,
    data: stationData[i], symbol: 'diamond', symbolSize: 10,
    itemStyle: {color: stationColors[i], opacity: 1}, z: 3
  });
  graphics.push({
    type: 'text', x: titleCenters[i][0], y: titleCenters[i][1],
    style: {text: stationNames[i], fill: '#000', font: 'bold 27px ' + FONT, align: 'center', verticalAlign: 'middle'}
  });
}
chart.setOption({
  animation: false,
  backgroundColor: '#fff',
  grid: grids, xAxis: xAxes, yAxis: yAxes, series: series, graphic: graphics
});
</script>
</body></html>
